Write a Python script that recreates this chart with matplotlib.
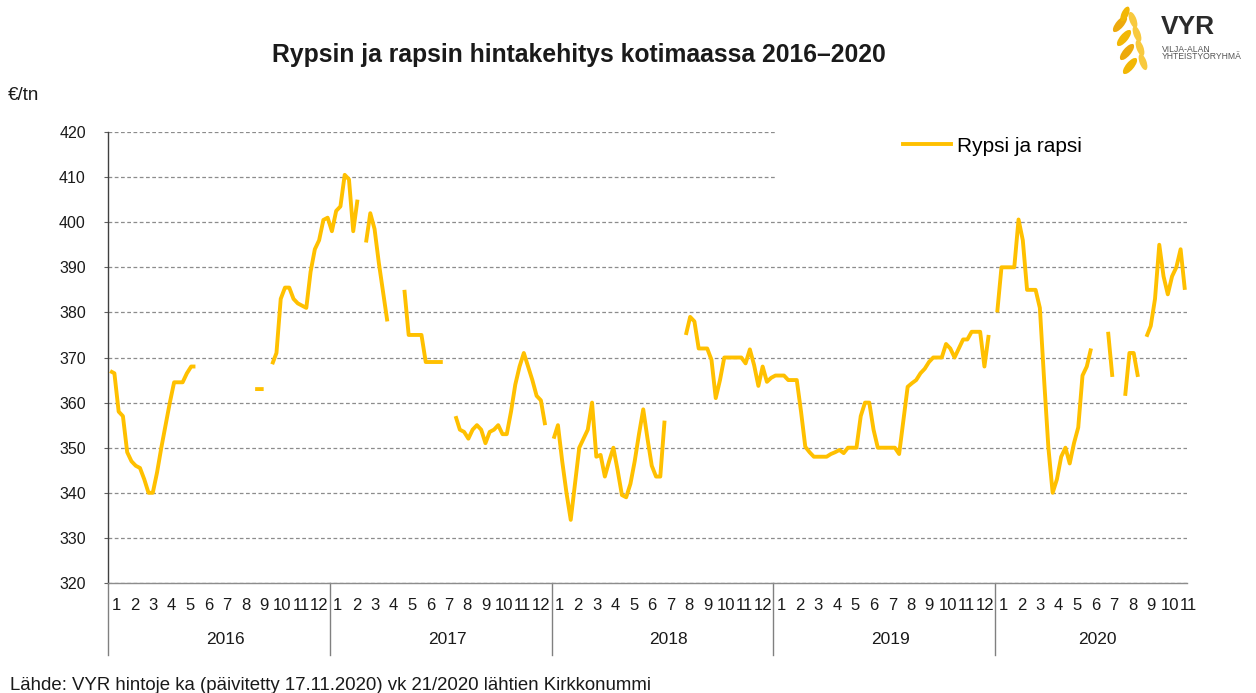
import numpy as np
import matplotlib
matplotlib.use('Agg')
import matplotlib.pyplot as plt
import matplotlib.transforms as mtransforms
from matplotlib.lines import Line2D
from matplotlib.patches import Rectangle, Ellipse

plt.rcParams['font.family'] = ['Liberation Sans', 'DejaVu Sans']

nan = np.nan

# ---------------- data ----------------
years = ['2016', '2017', '2018', '2019', '2020']
weeks_per_year = [52, 52, 52, 52, 45]
months_per_year = [12, 12, 12, 12, 11]

price_2016 = [367, 366.5, 358, 357, 349, 347, 346, 345.5, 343, 340,
              340, 344.5, 350, 355, 360, 364.5, 364.5, 364.5, 366.5, 368,
              368, nan, nan, nan, nan, nan, nan, nan, nan, nan,
              nan, nan, nan, nan, 363, 363, 363, nan, 368.5, 371,
              383, 385.5, 385.5, 383, 382, 381.5, 381, 389, 394, 396,
              400.5, 401]
price_2017 = [398, 402.5, 403.5, 410.5, 409.5, 398, 405, nan, 395.5, 402,
              398.5, 391, 384.5, 378, nan, nan, nan, 385, 375, 375,
              375, 375, 369, 369, 369, 369, 369, nan, nan, 357,
              354, 353.5, 352, 354, 355, 354, 351, 353.5, 354, 355,
              353, 353, 358, 364, 368, 371, 368, 365, 361.5, 360.5,
              355, nan]
price_2018 = [352, 355, 347, 340, 334, 342, 350, 352, 354, 360,
              348, 348.4, 343.6, 347, 350, 345, 339.5, 339, 342, 347,
              353, 358.5, 352, 346, 343.6, 343.6, 356, nan, nan, nan,
              nan, 375, 379, 378, 372, 372, 372, 369.5, 361, 365,
              370, 370, 370, 370, 370, 368.7, 371.8, 368.3, 363.7, 368,
              364.6, 365.5]
price_2019 = [366, 366, 366, 365, 365, 365, 358, 350.2, 349, 348,
              348, 348, 348, 348.6, 349, 349.5, 348.8, 350, 350, 350,
              357, 360, 360, 354, 350, 350, 350, 350, 350, 348.6,
              356, 363.5, 364.3, 365, 366.5, 367.5, 369, 370, 370, 370,
              373, 372, 370, 372, 374, 374, 375.7, 375.7, 375.7, 368,
              375, nan]
price_2020 = [380, 390, 390, 390, 390, 400.6, 396, 385, 385, 385,
              381, 365, 350, 340, 343, 348, 350, 346.5, 351, 354.5,
              366, 368, 372, nan, nan, nan, 375.7, 365.7, nan, nan,
              361.5, 371, 371, 365.7, nan, 374.6, 377, 383, 395, 388,
              384, 388, 390, 394, 385]

series_label = 'Rypsi ja rapsi'
title_text = 'Rypsin ja rapsin hintakehitys kotimaassa 2016\u20132020'
unit_text = '\u20ac/tn'
source_text = 'L\u00e4hde: VYR hintoje ka (p\u00e4ivitetty 17.11.2020) vk 21/2020 l\u00e4htien Kirkkonummi'
y_ticks = list(range(320, 421, 10))

# ---------------- figure ----------------
W, H = 1256, 693
fig = plt.figure(figsize=(W / 100, H / 100), dpi=100)
fig.patch.set_facecolor('white')

ax_l, ax_r, ax_t, ax_b = 108, 1187, 132, 583
ax = fig.add_axes([ax_l / W, 1 - ax_b / H, (ax_r - ax_l) / W, (ax_b - ax_t) / H])

values = np.array(price_2016 + price_2017 + price_2018 + price_2019 + price_2020, dtype=float)
n = len(values)
x = np.arange(n) + 0.5

line_color = '#FFC000'
ax.set_axisbelow(True)
ax.plot(x, values, color=line_color, lw=2.8, solid_joinstyle='round',
        solid_capstyle='butt', zorder=3)

ax.set_xlim(0, n)
ax.set_ylim(320, 420)
ax.set_yticks(y_ticks)
ax.set_yticklabels([str(v) for v in y_ticks])
ax.set_xticks([])
ax.tick_params(axis='y', length=3, width=0.8, color='#606060', pad=13,
               labelsize=11.5, labelcolor='#1a1a1a')
ax.yaxis.grid(True, linestyle=(0, (3, 2)), color='#8c8c8c', lw=0.9)

for s in ['top', 'right']:
    ax.spines[s].set_visible(False)
ax.spines['left'].set_color('#404040')
ax.spines['left'].set_linewidth(1.0)
ax.spines['bottom'].set_color('#8c8c8c')
ax.spines['bottom'].set_linewidth(1.0)

# white area behind legend
ax.add_patch(Rectangle((0.618, 0.85), 0.40, 0.16, transform=ax.transAxes,
                       facecolor='white', edgecolor='none', zorder=1, clip_on=False))

# category axis (months / years)
trans = mtransforms.blended_transform_factory(ax.transData, ax.transAxes)
ax_h = ax_b - ax_t
start = 0
for yi, (yr, nw, nm) in enumerate(zip(years, weeks_per_year, months_per_year)):
    ax.plot([start, start], [0, -(655 - ax_b) / ax_h], transform=trans,
            color='#808080', lw=1.0, clip_on=False)
    for m in range(1, nm + 1):
        pos = start + (m - 1) * 52 / 12 + 1.9
        ax.text(pos, -(606 - ax_b) / ax_h, str(m), transform=trans,
                ha='center', va='center', fontsize=12, color='#1a1a1a')
    ax.text(start + nw / 2 + 1.5, -(640 - ax_b) / ax_h, yr, transform=trans,
            ha='center', va='center', fontsize=12.5, color='#1a1a1a')
    start += nw

# legend
handle = Line2D([0], [0], color=line_color, lw=2.8)
ax.legend([handle], [series_label], loc='center left',
          bbox_to_anchor=(0.737, 1 - (146 - ax_t) / ax_h), frameon=False,
          fontsize=15, handlelength=2.3, handletextpad=0.3, borderpad=0,
          borderaxespad=0)

# texts
fig.text(579 / W, 1 - 55 / H, title_text, ha='center', va='center',
         fontsize=17.8, fontweight='bold', color='#1a1a1a')
fig.text(8 / W, 1 - 96 / H, unit_text, ha='left', va='center',
         fontsize=13.5, color='#1a1a1a')
fig.text(10 / W, 1 - 685 / H, source_text, ha='left', va='center',
         fontsize=13.4, color='#1a1a1a')

# logo
lax = fig.add_axes([1110 / W, 1 - 76 / H, 48 / W, 72 / H])
lax.set_xlim(0, 48)
lax.set_ylim(0, 72)
lax.axis('off')
stem_pts = [(28, 4), (25, 18), (22, 32), (18, 46)]
for k, (sx, sy) in enumerate(stem_pts):
    lax.add_patch(Ellipse((sx - 8, sy + 6), 20, 8, angle=50,
                          facecolor='#EDA90C' if k % 2 else '#F2B705', edgecolor='none'))
    lax.add_patch(Ellipse((sx + 5, sy + 10), 17, 7, angle=110,
                          facecolor='#F8C93E', edgecolor='none'))
lax.add_patch(Ellipse((15, 62), 7, 16, angle=-25, facecolor='#F2B705', edgecolor='none'))

fig.text(1161 / W, 1 - 27 / H, 'VYR', ha='left', va='center', fontsize=19,
         fontweight='bold', color='#2b2b2b')
fig.text(1162 / W, 1 - 49 / H, 'VILJA-ALAN', ha='left', va='center',
         fontsize=6.2, color='#555555')
fig.text(1162 / W, 1 - 56.5 / H, 'YHTEISTY\u00d6RYHM\u00c4', ha='left', va='center',
         fontsize=6.2, color='#555555')

fig.savefig('out.png', dpi=100, facecolor='white')
